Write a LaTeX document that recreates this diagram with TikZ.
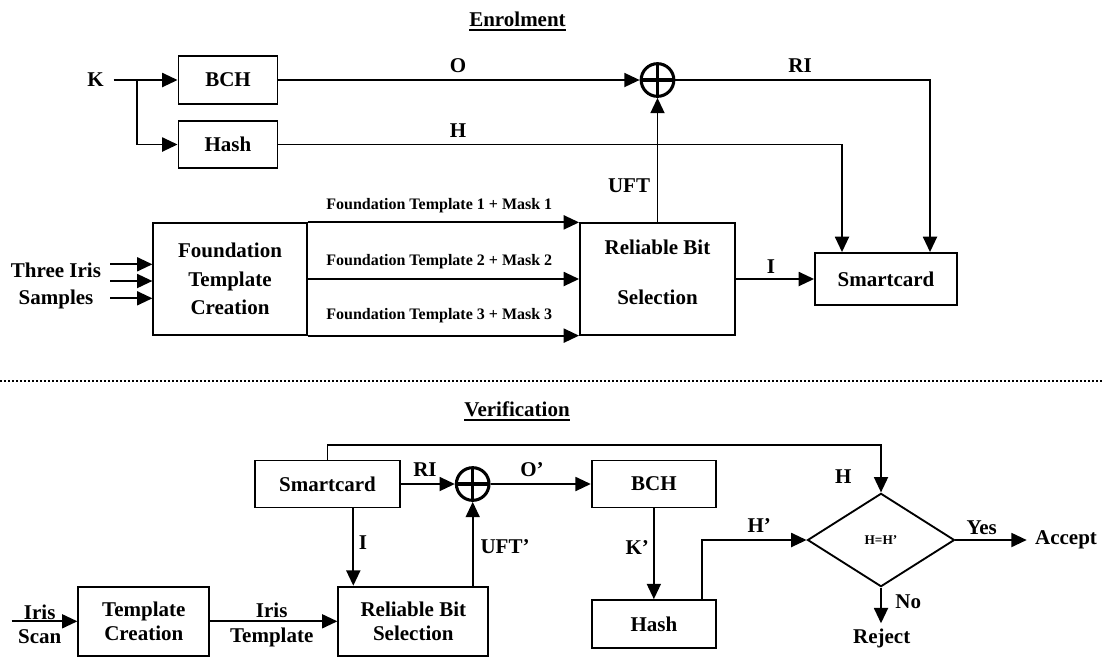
\documentclass[tikz,border=0pt]{standalone}
\usepackage{fontspec}
\setmainfont{Liberation Serif}
\usetikzlibrary{arrows.meta,shapes.geometric,calc}
\begin{document}
\begin{tikzpicture}[
  x=0.75pt, y=-0.75pt,
  box/.style={draw, line width=1.4pt, inner sep=0pt, align=center,
    font=\bfseries\fontsize{15.75}{18.5}\selectfont},
  lbl/.style={inner sep=0pt, align=center, font=\bfseries\fontsize{15.75}{18.5}\selectfont},
  small/.style={inner sep=0pt, font=\bfseries\fontsize{12}{14}\selectfont},
  wire/.style={line width=1.4pt},
  flow/.style={wire, -{Triangle[length=11.5pt,width=10.5pt]}},
  xor/.style={circle, draw, line width=2.3pt, minimum size=24.5pt, inner sep=0pt,
    path picture={\draw[line width=2.3pt]
      (path picture bounding box.north) -- (path picture bounding box.south)
      (path picture bounding box.west) -- (path picture bounding box.east);}},
  sep/.style={line width=1.5pt, dash pattern=on 1.5pt off 1.5pt},
]
\useasboundingbox (0,0) rectangle (1102,658);

% ---------------- Enrolment ----------------
\node[lbl, anchor=base] (tEn) at (517.5,26.7) {Enrolment};
\draw[wire] ([yshift=-2.6pt]tEn.base west) -- ([yshift=-2.6pt]tEn.base east);

\node[lbl] (K) at (95.5,80) {K};
\coordinate (kin) at (113.6,80);
\coordinate (kbr) at (136.8,80);
\node[box, minimum width=74.25pt, minimum height=35.5pt] (bchE) at (228,80) {BCH};
\node[box, minimum width=74.25pt, minimum height=35.5pt] (hashE) at (228,144.5) {Hash};
\node[xor] (xorE) at (657.5,80) {};
\node[box, minimum width=115pt, minimum height=83.55pt,
  font=\bfseries\fontsize{15.75}{21.2}\selectfont] (ftc) at (230,279) {Foundation\\Template\\Creation};
\node[box, minimum width=116.25pt, minimum height=83.55pt, text depth=9.5pt,
  font=\bfseries\fontsize{15.75}{37.5}\selectfont] (rbsE) at (657.5,279) {Reliable Bit\\Selection};
\node[box, minimum width=106.5pt, minimum height=39pt] (scE) at (886,279) {Smartcard};

\node[lbl, font=\bfseries\fontsize{15.75}{20}\selectfont] (tis) at (56,286) {Three Iris\\Samples};
\coordinate (ti1) at (110,264.3);
\coordinate (ti2) at (110,281);
\coordinate (ti3) at (110,298.3);

\node[lbl] (lO) at (458,66) {O};
\node[lbl] (lH) at (458,131) {H};
\node[lbl] (lRI) at (800,66) {RI};
\node[lbl] (lUFT) at (629,186) {UFT};
\node[lbl] (lI) at (771,266.7) {I};
\node[small] (ft1) at (439.3,205.7) {Foundation Template 1 + Mask 1};
\node[small] (ft2) at (439.3,261.7) {Foundation Template 2 + Mask 2};
\node[small] (ft3) at (439.3,316) {Foundation Template 3 + Mask 3};

\draw[flow] (kin) -- (bchE.west);
\draw[flow] (kbr) |- (hashE.west);
\draw[flow] (bchE.east) -- (xorE.west);
\draw[flow] (xorE.east) -| ([xshift=33pt]scE.north);
\draw[flow] (hashE.east) -| ([xshift=-33pt]scE.north);
\draw[flow] (rbsE.north) -- (xorE.south);
\draw[flow] (ftc.north east) -- (rbsE.north west);
\draw[flow] (ftc.east) -- (rbsE.west);
\draw[flow] (ftc.south east) -- (rbsE.south west);
\draw[flow] (rbsE.east) -- (scE.west);
\draw[flow] (ti1) -- (ti1 -| ftc.west);
\draw[flow] (ti2) -- (ti2 -| ftc.west);
\draw[flow] (ti3) -- (ti3 -| ftc.west);

% separator
\coordinate (sepL) at (0,381);
\coordinate (sepR) at (1102,381);
\draw[sep] (sepL) -- (sepR);

% ---------------- Verification ----------------
\node[lbl, anchor=base] (tVe) at (517,416.5) {Verification};
\draw[wire] ([yshift=-2.4pt]tVe.base west) -- ([yshift=-2.4pt]tVe.base east);

\node[box, minimum width=108.75pt, minimum height=35.25pt] (scV) at (327.5,484) {Smartcard};
\node[xor] (xorV) at (472.7,484) {};
\node[box, minimum width=93.2pt, minimum height=35.25pt] (bchV) at (653.85,484) {BCH};
\node[box, minimum width=93.2pt, minimum height=36.2pt] (hashV) at (653.85,624.2) {Hash};
\node[box, minimum width=112.5pt, minimum height=52pt] (rbsV) at (413.3,621.3) {Reliable Bit\\Selection};
\node[box, minimum width=98.25pt, minimum height=52pt] (tcV) at (143.8,621.3) {Template\\Creation};
\node[draw, diamond, line width=1.4pt, inner sep=0pt, minimum width=110.25pt, minimum height=70pt,
  font=\bfseries\fontsize{10}{12}\selectfont] (dia) at (881,540) {H=H’};

\node[lbl] (lRIv) at (425,469.3) {RI};
\node[lbl] (lOv) at (532,469.3) {O’};
\node[lbl] (lIv) at (363,543) {I};
\node[lbl] (lUFTv) at (505,546.7) {UFT’};
\node[lbl] (lKv) at (637.3,547.3) {K’};
\node[lbl] (lHp) at (759.3,526) {H’};
\node[lbl] (lHv) at (843.3,476.7) {H};
\node[lbl] (lYes) at (981.7,527.3) {Yes};
\node[lbl] (acc) at (1066,540) {Accept};
\node[lbl] (lNo) at (908.3,601.7) {No};
\node[lbl] (rej) at (881.7,638.3) {Reject};
\node[lbl, font=\bfseries\fontsize{15.75}{18}\selectfont] (scan) at (39.7,624.7) {Iris\\Scan};
\node[lbl] (itpl) at (271.7,625) {Iris\\Template};

\coordinate (scanin) at (11.7,621.3);
\coordinate (noend) at (881,623.3);
\coordinate (yesend) at (1026.7,540);
\coordinate (loopc) at (600,445);
\coordinate (iV) at ([xshift=19.35pt]scV.south);
\coordinate (hv) at ([xshift=35.85pt]hashV.north);

\draw[flow] (scanin) -- (tcV.west);
\draw[flow] (tcV.east) -- (rbsV.west);
\draw[flow] (iV) -- (iV |- rbsV.north);
\draw[flow] (xorV.south |- rbsV.north) -- (xorV.south);
\draw[flow] (scV.east) -- (xorV.west);
\draw[flow] (xorV.east) -- (bchV.west);
\draw[flow] (bchV.south) -- (hashV.north);
\draw[flow] (hv) |- (dia.west);
\draw[flow] (scV.north) |- (loopc) -| (dia.north);
\draw[flow] (dia.east) -- (yesend);
\draw[flow] (dia.south) -- (noend);

\end{tikzpicture}
\end{document}
